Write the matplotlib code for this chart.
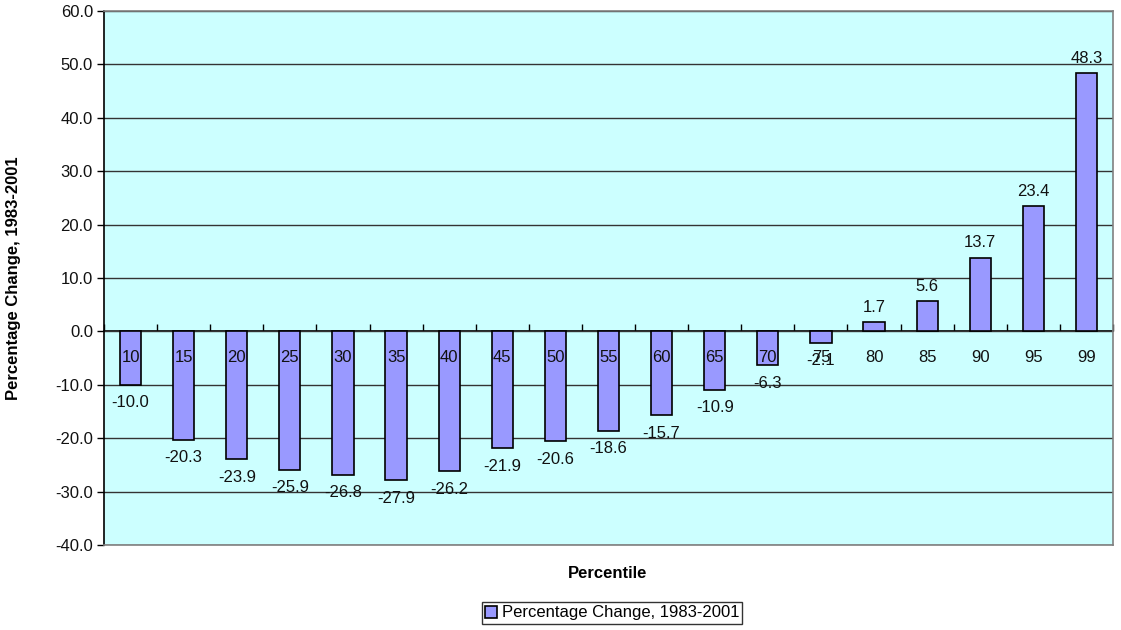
import matplotlib
matplotlib.use("Agg")
import matplotlib.pyplot as plt
import numpy as np

plt.rcParams['font.family'] = ['Liberation Sans', 'DejaVu Sans']

percentiles = ["10", "15", "20", "25", "30", "35", "40", "45", "50", "55",
               "60", "65", "70", "75", "80", "85", "90", "95", "99"]
values = [-10.0, -20.3, -23.9, -25.9, -26.8, -27.9, -26.2, -21.9, -20.6, -18.6,
          -15.7, -10.9, -6.3, -2.1, 1.7, 5.6, 13.7, 23.4, 48.3]
series_name = "Percentage Change, 1983-2001"
y_ticks = [-40, -30, -20, -10, 0, 10, 20, 30, 40, 50, 60]

W, H = 1121, 630
FS = 12
fig = plt.figure(figsize=(W / 100, H / 100), dpi=100)
ax = fig.add_axes([104 / W, 1 - 545 / H, (1113 - 104) / W, (545 - 11) / H])
ax.set_facecolor('#CCFFFF')

x = np.arange(len(percentiles))
bars = ax.bar(x, values, width=0.4, color='#9999FF', edgecolor='black',
              linewidth=1.2, zorder=3, label=series_name)

ax.set_xlim(-0.5, len(percentiles) - 0.5)
ax.set_ylim(-40, 60)
ax.set_yticks(y_ticks)
ax.set_yticklabels([f"{v:.1f}" for v in y_ticks], fontsize=FS, color='#111111')
ax.yaxis.grid(True, color='#333333', linewidth=1.0, zorder=1)
ax.set_axisbelow(True)
ax.tick_params(axis='y', direction='out', length=5, width=1, pad=3)
ax.set_xticks([])

for side in ['top', 'right', 'bottom']:
    ax.spines[side].set_color('#808080')
    ax.spines[side].set_linewidth(1.2)
ax.spines['left'].set_color('black')
ax.spines['left'].set_linewidth(1.2)

# category axis at zero
sec = ax.secondary_xaxis(0.4)
sec.set_xticks(np.arange(len(percentiles) + 1) - 0.5)
sec.set_xticklabels([])
sec.tick_params(direction='in', length=5, width=1, color='black')
sec.spines['bottom'].set_color('black')
sec.spines['bottom'].set_linewidth(1.2)

for xi, lab in zip(x, percentiles):
    ax.annotate(lab, (xi, 0), xytext=(0, -19), textcoords='offset points',
                ha='center', va='center', fontsize=FS, color='#111111', zorder=5)

for xi, v in zip(x, values):
    off = 11 if v >= 0 else -13
    ax.annotate(f"{v:.1f}", (xi, v), xytext=(0, off), textcoords='offset points',
                ha='center', va='center', fontsize=FS, color='#111111', zorder=5)

fig.text(14 / W, 1 - 278 / H, "Percentage Change, 1983-2001", rotation=90,
         ha='center', va='center', fontsize=FS, fontweight='bold')
fig.text(608 / W, 1 - 573 / H, "Percentile", ha='center', va='center',
         fontsize=FS, fontweight='bold')

leg = fig.legend(handles=[bars], labels=[series_name], loc='center',
                 bbox_to_anchor=(612 / W, 1 - 613 / H), fontsize=FS, frameon=True,
                 fancybox=False, edgecolor='black', handlelength=0.7, handleheight=0.7,
                 handletextpad=0.3, borderpad=0.2, borderaxespad=0)
leg.get_frame().set_linewidth(1.0)

fig.savefig("out.png", dpi=100)
